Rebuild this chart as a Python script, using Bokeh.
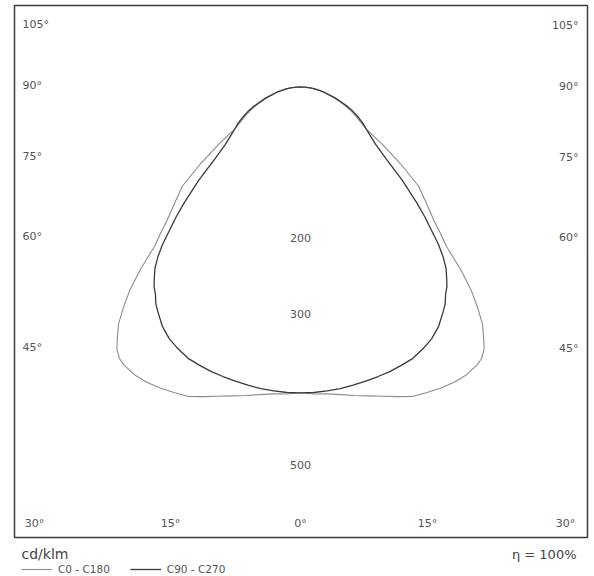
import numpy as np
from bokeh.plotting import figure
from bokeh.models import Label, Legend, LegendItem, Range1d
from bokeh.embed import file_html
from bokeh.resources import INLINE

# ---- data (cd/klm) ----
gamma = [0, 2.5, 5, 7.5, 10, 12.5, 15, 17.5, 20, 22.5, 25, 27.5, 30, 32.5, 33.75, 35,
         36.25, 37.5, 38.75, 40, 41.25, 42.5, 43.75, 45, 47.5, 50, 52.5, 55, 57.5, 60,
         62.5, 65, 67.5, 70, 72.5, 75, 77.5, 80, 82.5, 85, 87.5, 90]
c0_c180 = [405, 407, 408, 411, 415, 419, 424, 430, 436, 438, 440, 441, 440, 436, 432, 424,
           410, 396, 375, 352, 322, 286, 268, 250, 225, 204, 167, 132, 103, 91,
           82, 73, 64, 54, 46, 38, 32, 25, 19, 13, 6, 0]
c90_c270 = [405, 405, 404, 403, 401, 399, 397, 395, 392, 389, 383, 376, 366, 352, 345, 335,
            328, 318, 308, 294, 277, 256, 238, 219, 183, 148, 126, 113, 103, 95,
            86, 77, 67, 57, 48, 38, 32, 25, 19, 13, 6, 0]
series_names = ["C0 - C180", "C90 - C270"]
side_angle_labels = ["105°", "90°", "75°", "60°", "45°"]
bottom_angle_labels = ["30°", "15°", "0°", "15°", "30°"]
ring_values = [200, 300, 500]
unit_label = "cd/klm"
efficiency_label = "η = 100%"

# ---- layout ----
W, H = 594, 576
K = 0.755            # px per cd/klm
OX, OY = 300, 86.5   # polar origin in pixels

def dx(px):  # pixel x -> data
    return (px - OX) / K

def dy(py):  # pixel y -> data
    return (OY - py) / K

p = figure(width=W, height=H, output_backend="svg", toolbar_location=None,
           x_range=Range1d(-OX / K, (W - OX) / K),
           y_range=Range1d(-(H - OY) / K, OY / K),
           x_axis_location=None, y_axis_location=None, min_border=0)
p.grid.visible = False
p.outline_line_color = None
p.background_fill_color = "white"
p.border_fill_color = "white"

# frame box
p.quad(left=dx(14), right=dx(587), top=dy(5), bottom=dy(537),
       fill_color=None, line_color="#3a3a3a", line_width=1.5)

def polar_xy(vals):
    g = np.radians(np.array(gamma, dtype=float))
    v = np.array(vals, dtype=float)
    th = np.concatenate([-g[::-1], g[1:]])
    r = np.concatenate([v[::-1], v[1:]])
    return r * np.sin(th), -r * np.cos(th)

x0, y0 = polar_xy(c0_c180)
x1, y1 = polar_xy(c90_c270)
r0 = p.line(x0, y0, line_color="#8c8c8c", line_width=1.1, line_join="round")
r1 = p.line(x1, y1, line_color="#3a3a3a", line_width=1.3, line_join="round")

FONT = "DejaVu Sans"
TC = "#555555"

def lab(x, y, text, align="left", size="11px", color=TC):
    p.add_layout(Label(x=x, y=y, text=text, text_align=align, text_baseline="middle",
                       text_font_size=size, text_color=color, text_font=FONT))

side_y = [24, 85, 156, 236, 347]
for t, yy in zip(side_angle_labels, side_y):
    lab(dx(22), dy(yy), t, "left")
    lab(dx(578), dy(yy + 1), t, "right")

bottom_x = [34, 170, 300, 427, 565]
for t, xx in zip(bottom_angle_labels, bottom_x):
    lab(dx(xx), dy(523), t, "center")

for v in ring_values:
    lab(0, -v, str(v), "center")

lab(dx(21), dy(553), unit_label, "left", size="14px", color="#444444")
lab(dx(576), dy(554), efficiency_label, "right", size="13px", color="#444444")

legend = Legend(items=[LegendItem(label=series_names[0], renderers=[r0]),
                       LegendItem(label=series_names[1], renderers=[r1])],
                orientation="horizontal", location=(21, 1), padding=0, margin=0,
                spacing=20, glyph_width=31, glyph_height=12, label_height=12,
                label_standoff=6, label_text_font_size="10.5px", label_text_color=TC,
                label_text_font=FONT, background_fill_alpha=0, border_line_color=None)
p.add_layout(legend)

open("out.html", "w").write(file_html(p, INLINE))
